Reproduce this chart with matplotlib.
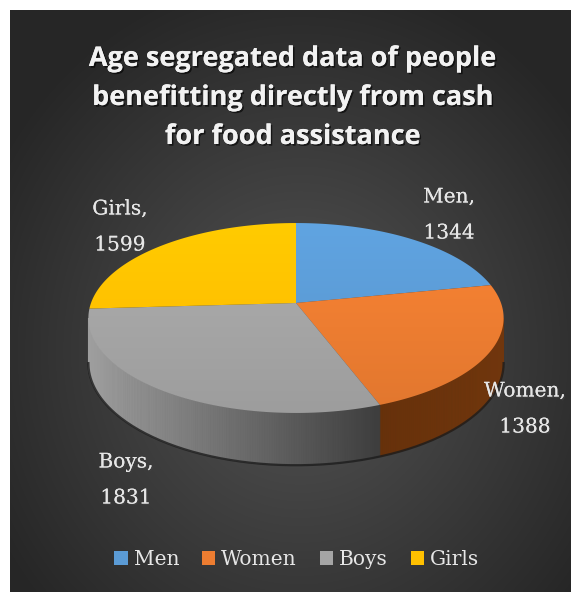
import numpy as np
import matplotlib
matplotlib.use('Agg')
import matplotlib.pyplot as plt
from matplotlib.patches import Polygon, Patch
import matplotlib.patheffects as pe

# ---- data ----
categories = ['Men', 'Women', 'Boys', 'Girls']
values = [1344, 1388, 1831, 1599]
colors_top = ['#5b9bd5', '#ed7d31', '#a5a5a5', '#ffc000']
title = 'Age segregated data of people\nbenefitting directly from cash\nfor food assistance'

W, H = 571, 592
fig = plt.figure(figsize=(W / 100, H / 100), dpi=100, facecolor='white')
ax = fig.add_axes([0, 0, 1, 1])
ax.set_xlim(0, W); ax.set_ylim(H, 0); ax.axis('off')

# ---- background: dark radial gradient ----
yy, xx = np.mgrid[0:582, 0:561]
r = np.sqrt(((xx - 290) / 330.0) ** 2 + ((yy - 340) / 360.0) ** 2)
lum = np.clip(0.33 - 0.17 * r, 0.15, 0.33)
ax.imshow(np.dstack([lum, lum, lum]), extent=(10, W, H, 10), zorder=0, aspect='auto')

# ---- 3D pie with simple perspective (pixel space) ----
cx, cy = 296.0, 303.0      # apex of the pie top
A, B, k = 205.0, 92.6, 0.158
h0 = 44.0                  # wall height


def top_pt(t):
    s = 1.0 / (1.0 + k * np.sin(t))
    return cx + A * np.cos(t) * s, cy - B * np.sin(t) * s


def bot_pt(t):
    s = 1.0 / (1.0 + k * np.sin(t))
    x, y = top_pt(t)
    return x, y + h0 * s


vals = np.array(values, float)
sweep = vals / vals.sum() * 2 * np.pi
starts = np.pi / 2 - np.concatenate([[0], np.cumsum(sweep)[:-1]])  # clockwise from 12 o'clock
ends = starts - sweep

# visible wall runs between the two silhouette points (sin t = -k)
t_left, t_right = -np.pi + np.arcsin(k), -np.arcsin(k)
for i in range(len(values)):
    for shift in (0, -2 * np.pi, 2 * np.pi):
        a0, a1 = max(ends[i] + shift, t_left), min(starts[i] + shift, t_right)
        if a1 <= a0:
            continue
        ts = np.linspace(a0, a1, max(int((a1 - a0) / 0.01), 2))
        for t0, t1 in zip(ts[:-1], ts[1:]):
            xt0, yt0 = top_pt(t0); xt1, yt1 = top_pt(t1)
            xb0, yb0 = bot_pt(t0); xb1, yb1 = bot_pt(t1)
            xm = (xt0 + xt1) / 2
            if categories[i] == 'Boys':
                f = np.clip((xm - 90) / 290.0, 0, 1)
                c = (1 - f) * np.array([0.62, 0.62, 0.62]) + f * np.array([0.24, 0.24, 0.24])
            elif categories[i] == 'Women':
                f = np.clip((xm - 370) / 130.0, 0, 1)
                c = (1 - f) * np.array([0.40, 0.19, 0.04]) + f * np.array([0.44, 0.21, 0.05])
            else:
                c = np.array(matplotlib.colors.to_rgb(colors_top[i])) * 0.5
            ax.add_patch(Polygon([(xt0, yt0), (xt1, yt1), (xb1, yb1), (xb0, yb0)],
                                 closed=True, facecolor=c, edgecolor=c, lw=0.6, zorder=2))

# dark rim along the bottom
tb = np.linspace(t_left, t_right, 200)
bx, by = bot_pt(tb)
ax.plot(bx, by, color='#1c1c1c', lw=1.6, zorder=3, alpha=0.8)

# top faces with a slight vertical gradient
ytop = cy - B / (1 + k); ybot = cy + B / (1 - k)
for i in range(len(values)):
    ts = np.linspace(starts[i], ends[i], 160)
    px, py = top_pt(ts)
    poly = Polygon(np.column_stack([np.r_[cx, px], np.r_[cy, py]]), closed=True,
                   facecolor='none', edgecolor='none', zorder=4)
    ax.add_patch(poly)
    base = np.array(matplotlib.colors.to_rgb(colors_top[i]))
    g = np.linspace(1.06, 0.95, 200)[:, None]
    grad = np.clip(base[None, None, :] * g[:, :, None] * np.ones((1, 2, 1)), 0, 1)
    im = ax.imshow(grad, extent=(cx - A - 10, cx + A + 10, ybot + 2, ytop - 2),
                   zorder=4, aspect='auto')
    im.set_clip_path(poly)

# ---- title ----
shadow = [pe.withSimplePatchShadow(offset=(1.2, -1.2), shadow_rgbFace='black', alpha=0.6), pe.Normal()]
ax.text(293, 98, title, ha='center', va='center', color='#f2f2f2', fontsize=19.5,
        fontweight='bold', family='Open Sans', linespacing=1.65, zorder=6, path_effects=shadow)

# ---- data labels (name line + value line) ----
label_pos = [(449, 215), (525, 409), (126, 480), (120, 227)]
lab_fx = [pe.withSimplePatchShadow(offset=(1, -1), alpha=0.5), pe.Normal()]
for cat, v, (lx, ly) in zip(categories, values, label_pos):
    ax.text(lx, ly - 18, f'{cat},', ha='center', va='center', color='#e6e6e6',
            fontsize=14.5, family='DejaVu Serif', zorder=6, path_effects=lab_fx)
    ax.text(lx, ly + 18, f'{v}', ha='center', va='center', color='#e6e6e6',
            fontsize=14.5, family='DejaVu Serif', zorder=6, path_effects=lab_fx)

# ---- legend ----
handles = [Patch(facecolor=c, edgecolor='none', label=l) for l, c in zip(categories, colors_top)]
leg = fig.legend(handles=handles, loc='center', bbox_to_anchor=(0.52, 0.055), ncol=4,
                 frameon=False, handlelength=0.65, handleheight=0.65, handletextpad=0.3,
                 columnspacing=1.15, prop={'family': 'DejaVu Serif', 'size': 14.5})
for t in leg.get_texts():
    t.set_color('#e6e6e6')

fig.savefig('out.png', dpi=100, facecolor='white')
